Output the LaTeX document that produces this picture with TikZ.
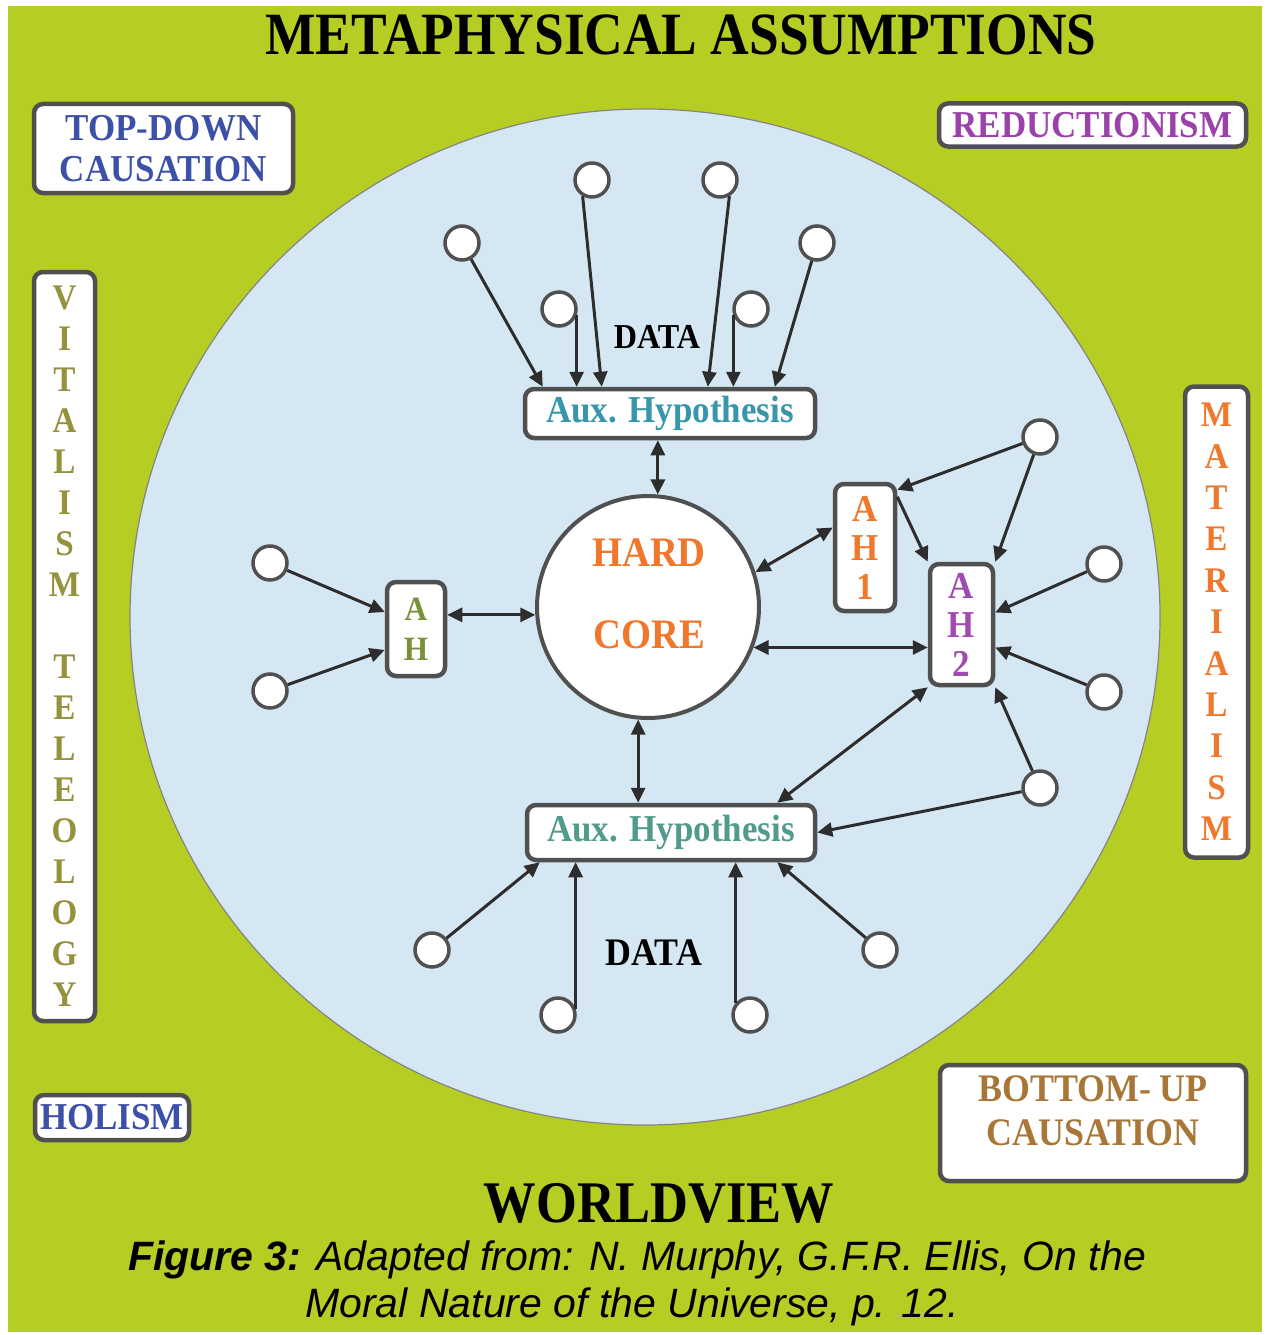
\documentclass[tikz,border=0pt]{standalone}
\usepackage{fontspec}
\setmainfont{Liberation Serif}
\setsansfont{Liberation Sans}
\newfontfamily\lblfont[FakeStretch=0.92]{Liberation Serif}
\newfontfamily\ttlfont[FakeStretch=0.89]{Liberation Serif}
\usetikzlibrary{arrows.meta}
\newcommand\myLF[2]{\lblfont\bfseries\fontsize{#1}{#2}\selectfont}
\definecolor{bggreen}{RGB}{182,205,36}
\definecolor{skyblue}{RGB}{213,231,243}
\definecolor{boxgray}{RGB}{80,80,80}
\definecolor{linegray}{RGB}{45,45,45}
\definecolor{tdblue}{RGB}{60,80,168}
\definecolor{redpurple}{RGB}{155,65,170}
\definecolor{olivetxt}{RGB}{150,145,60}
\definecolor{matorange}{RGB}{240,120,45}
\definecolor{bubrown}{RGB}{168,118,55}
\definecolor{auxteal}{RGB}{55,150,170}
\definecolor{auxgreen}{RGB}{80,155,140}
\definecolor{ahgreen}{RGB}{120,145,55}
\definecolor{ahpurple}{RGB}{160,75,175}
\begin{document}
\begin{tikzpicture}[x=1pt,y=-1pt,
  box/.style={draw=boxgray, line width=4.5pt, fill=white, rounded corners=9pt, inner sep=0pt, align=center},
  dot/.style={circle, draw=boxgray, line width=3.5pt, fill=white, minimum size=34pt, inner sep=0pt},
  conn/.style={draw=linegray, line width=3pt},
  arr/.style={conn, -{Triangle[length=15pt,width=14pt]}},
  darr/.style={conn, {Triangle[length=15pt,width=14pt]}-{Triangle[length=15pt,width=14pt]}},
]
\useasboundingbox (0,0) rectangle (1266,1335);
\fill[white] (0,0) rectangle (1266,1335);
\fill[bggreen] (8,6) rectangle (1262,1332);
\filldraw[fill=skyblue, draw=boxgray!70, line width=1.2pt] (645,617) ellipse [x radius=515, y radius=508];

% titles
\node[anchor=base, inner sep=0pt, font=\ttlfont\bfseries\fontsize{60}{60}\selectfont] (title) at (681,55) {METAPHYSICAL ASSUMPTIONS};
\node[anchor=base, inner sep=0pt, font=\ttlfont\bfseries\fontsize{59}{59}\selectfont] (worldview) at (659,1222) {WORLDVIEW};
\node[anchor=base, inner sep=0pt, font=\sffamily\itshape\fontsize{41}{41}\selectfont] (cap1) at (637,1270) {\textbf{Figure 3:} Adapted from: N. Murphy, G.F.R. Ellis, On the};
\node[anchor=base, inner sep=0pt, font=\sffamily\itshape\fontsize{41}{41}\selectfont] (cap2) at (632,1317) {Moral Nature of the Universe, p. 12.};

% corner and side boxes
\node[box, minimum width=259pt, minimum height=89pt, text=tdblue, font=\myLF{38}{41}] (topdown) at (163.5,148.5) {TOP-DOWN\\CAUSATION};
\node[box, minimum width=307pt, minimum height=43pt, text=redpurple, font=\myLF{38}{41}] (reduct) at (1092.5,125) {REDUCTIONISM};
\node[box, minimum width=61pt, minimum height=749pt, text=olivetxt, font=\myLF{36}{41}] (vital) at (64.5,646.5) {V\\I\\T\\A\\L\\I\\S\\M\\[41pt]T\\E\\L\\E\\O\\L\\O\\G\\Y};
\node[box, minimum width=63pt, minimum height=471pt, text=matorange, font=\myLF{36}{41.4}] (mater) at (1216.5,622) {M\\A\\T\\E\\R\\I\\A\\L\\I\\S\\M};
\node[box, minimum width=154pt, minimum height=45pt, text=tdblue, font=\myLF{38}{41}] (holism) at (112,1117.5) {HOLISM};
\node[box, minimum width=306pt, minimum height=116pt] (bottomup) at (1093,1123) {};
\node[inner sep=0pt, align=center, text=bubrown, font=\myLF{39}{44}] (butext) at (1093,1111) {BOTTOM- UP\\CAUSATION};

% central structure
\node[box, minimum width=290pt, minimum height=49pt, text=auxteal, font=\myLF{38}{41}] (auxT) at (670,413.5) {Aux. Hypothesis};
\node[box, minimum width=288pt, minimum height=55pt, text=auxgreen, font=\myLF{38}{41}] (auxB) at (671,832.5) {Aux. Hypothesis};
\node[circle, draw=boxgray, line width=4pt, fill=white, minimum size=222pt, inner sep=0pt] (hc) at (648,607) {};
\node[inner sep=0pt, align=center, text=matorange, font=\myLF{42}{82}] (hctext) at (649,594) {HARD\\CORE};
\node[box, minimum width=58pt, minimum height=94pt, text=ahgreen, font=\myLF{34}{40}] (ah) at (416,629) {A\\H};
\node[box, minimum width=60pt, minimum height=127pt, text=matorange, font=\myLF{38}{39}] (ah1) at (865,547.5) {A\\H\\1};
\node[box, minimum width=63pt, minimum height=121pt, text=ahpurple, font=\myLF{38}{39}] (ah2) at (961.5,624.5) {A\\H\\2};

\node[font=\myLF{35}{35}, inner sep=0pt] (dataT) at (657,337) {DATA};
\node[font=\myLF{39}{39}, inner sep=0pt] (dataB) at (654,953) {DATA};

% data dots
\node[dot] (u1) at (462,243) {};
\node[dot] (u2) at (592,180) {};
\node[dot] (u3) at (559,309) {};
\node[dot] (u4) at (720,180) {};
\node[dot] (u5) at (751,309) {};
\node[dot] (u6) at (817,243) {};
\node[dot] (l1) at (270,563) {};
\node[dot] (l2) at (270,691) {};
\node[dot] (r1) at (1040,437) {};
\node[dot] (r2) at (1104,564) {};
\node[dot] (r3) at (1104,692) {};
\node[dot] (r4) at (1040,788) {};
\node[dot] (b1) at (432,950) {};
\node[dot] (b2) at (558,1015) {};
\node[dot] (b3) at (750,1015) {};
\node[dot] (b4) at (880,950) {};

% upper connectors
\draw[arr] (u1) -- ([xshift=20pt]auxT.north west);
\draw[arr] (u3.-20) -- (u3.-20 |- auxT.north);
\draw[arr] (u2.-120) -- ([xshift=79pt]auxT.north west);
\draw[arr] (u4.-60) -- ([xshift=185pt]auxT.north west);
\draw[arr] (u5.-160) -- (u5.-160 |- auxT.north);
\draw[arr] (u6) -- ([xshift=252pt]auxT.north west);

% hard core links
\draw[darr] (hc.85) -- (hc.85 |- auxT.south);
\draw[darr] (hc.-95) -- (hc.-95 |- auxB.north);
\draw[darr] (hc.184) -- (hc.184 -| ah.east);
\draw[darr] (hc.18) -- ([yshift=20pt]ah1.west);
\draw[darr] (hc.-21) -- (hc.-21 -| ah2.west);

% left AH
\draw[arr] (l1) -- ([yshift=17pt]ah.west);
\draw[arr] (l2) -- ([yshift=-21pt]ah.west);

% AH1 / AH2 network
\draw[arr] ([yshift=-15pt]ah1.north east) -- (ah2.north west);
\draw[arr] (r1) -- ([yshift=-8pt]ah1.north east);
\draw[arr] (r1) -- (ah2.north east);
\draw[arr] (r2) -- ([yshift=12pt]ah2.east);
\draw[arr] (r3) -- ([yshift=-23pt]ah2.east);
\draw[arr] (r4) -- (ah2.south east);
\draw[arr] (r4) -- (auxB.east);
\draw[darr] (ah2.south west) -- ([xshift=-40pt]auxB.north east);

% lower connectors
\draw[arr] (b1) -- ([xshift=15pt]auxB.south west);
\draw[arr] (b2.20) -- (b2.20 |- auxB.south);
\draw[arr] (b3.140) -- (b3.140 |- auxB.south);
\draw[arr] (b4) -- ([xshift=-40pt]auxB.south east);
\end{tikzpicture}
\end{document}
